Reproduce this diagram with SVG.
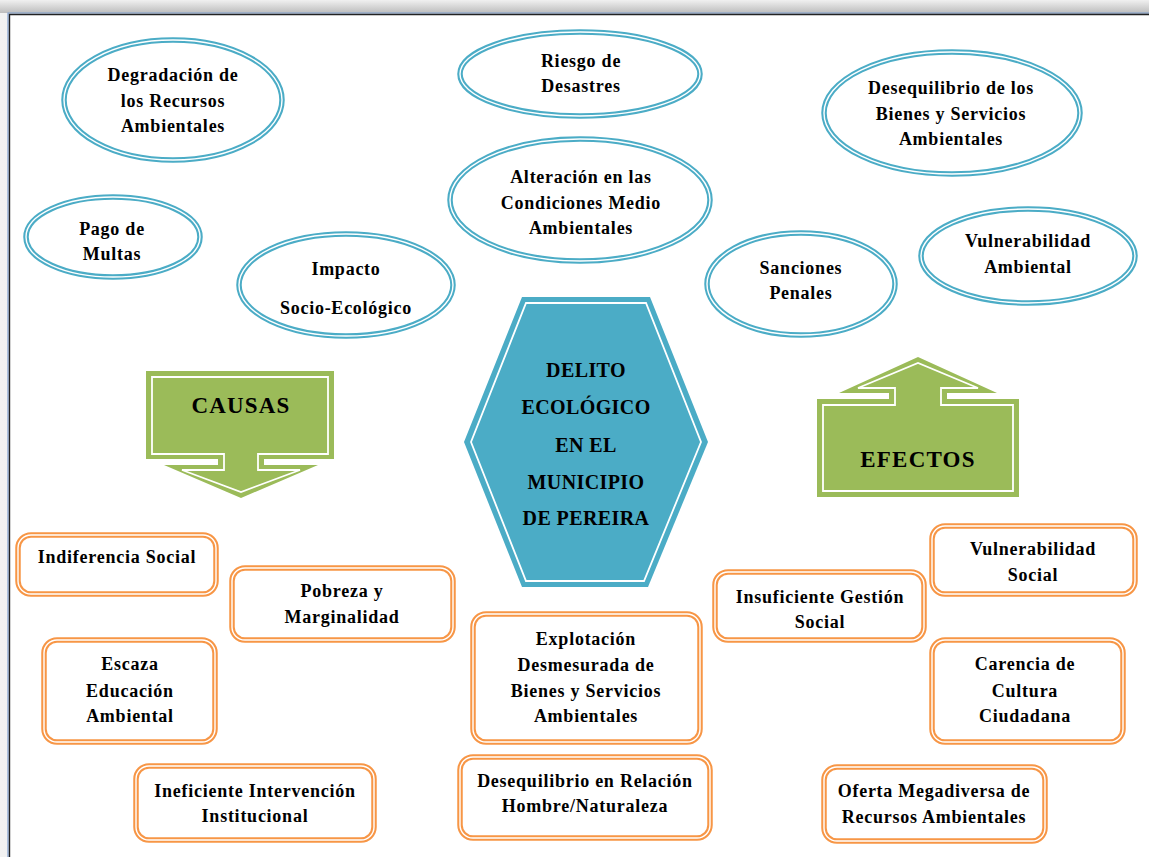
<svg xmlns="http://www.w3.org/2000/svg" width="1149" height="857" viewBox="0 0 1149 857">
<defs>
<linearGradient id="gTop" x1="0" y1="0" x2="0" y2="1"><stop offset="0" stop-color="#f0f0f0"/><stop offset="1" stop-color="#bdbdbd"/></linearGradient>
<linearGradient id="gLeft" x1="0" y1="0" x2="1" y2="0"><stop offset="0" stop-color="#f2f2f2"/><stop offset="1" stop-color="#b8b8b8"/></linearGradient>
<style>
.t{font-family:"Liberation Serif","Times New Roman",serif;font-weight:bold;font-size:18px;letter-spacing:0.75px;fill:#000;text-anchor:middle}
.h{font-size:20px;letter-spacing:0.4px}
.a{font-size:23px;letter-spacing:1.2px}
.eo{fill:#fff;stroke:#4bacc6;stroke-width:5.5}
.ei{fill:none;stroke:#fff;stroke-width:1.4}
.ro{fill:#fff;stroke:#f79646;stroke-width:5.5}
.ri{fill:none;stroke:#fff;stroke-width:1.4}
.gr{fill:#9bbb59}
.wl{fill:none;stroke:#fff;stroke-width:1.8}
</style>
</defs>
<rect x="0" y="0" width="1149" height="857" fill="url(#gLeft)"/>
<rect x="0" y="0" width="1149" height="13" fill="url(#gTop)"/>
<rect x="9" y="14" width="1150" height="850" fill="#fff"/>
<path d="M8,857 V13 H1149" fill="none" stroke="#7f9fd0" stroke-width="1.2"/>
<path d="M9.5,857 V14.5 H1149" fill="none" stroke="#222" stroke-width="1.4"/>

<g id="connectors"></g>

<g id="e-degradacion"><ellipse class="eo" cx="173" cy="100" rx="109" ry="60"/><ellipse class="ei" cx="173" cy="100" rx="109" ry="60"/>
<text class="t" x="173" y="81">Degradación de</text><text class="t" x="173" y="107">los Recursos</text><text class="t" x="173" y="132">Ambientales</text></g>
<g id="e-riesgo"><ellipse class="eo" cx="580" cy="74" rx="120" ry="42"/><ellipse class="ei" cx="580" cy="74" rx="120" ry="42"/>
<text class="t" x="581" y="67">Riesgo de</text><text class="t" x="581" y="92">Desastres</text></g>
<g id="e-desequilibrio"><ellipse class="eo" cx="952" cy="113" rx="128" ry="61"/><ellipse class="ei" cx="952" cy="113" rx="128" ry="61"/>
<text class="t" x="951" y="94">Desequilibrio de los</text><text class="t" x="951" y="120">Bienes y Servicios</text><text class="t" x="951" y="145">Ambientales</text></g>
<g id="e-alteracion"><ellipse class="eo" cx="580" cy="200" rx="130" ry="61"/><ellipse class="ei" cx="580" cy="200" rx="130" ry="61"/>
<text class="t" x="581" y="183">Alteración en las</text><text class="t" x="581" y="209">Condiciones Medio</text><text class="t" x="581" y="234">Ambientales</text></g>
<g id="e-pago"><ellipse class="eo" cx="113" cy="237" rx="87" ry="40"/><ellipse class="ei" cx="113" cy="237" rx="87" ry="40"/>
<text class="t" x="112" y="235">Pago de</text><text class="t" x="112" y="260">Multas</text></g>
<g id="e-impacto"><ellipse class="eo" cx="346" cy="285" rx="107" ry="51"/><ellipse class="ei" cx="346" cy="285" rx="107" ry="51"/>
<text class="t" x="346" y="275">Impacto</text><text class="t" x="346" y="314">Socio-Ecológico</text></g>
<g id="e-sanciones"><ellipse class="eo" cx="801" cy="284" rx="94" ry="51"/><ellipse class="ei" cx="801" cy="284" rx="94" ry="51"/>
<text class="t" x="801" y="274">Sanciones</text><text class="t" x="801" y="299">Penales</text></g>
<g id="e-vulnamb"><ellipse class="eo" cx="1028" cy="256" rx="107" ry="47"/><ellipse class="ei" cx="1028" cy="256" rx="107" ry="47"/>
<text class="t" x="1028" y="247">Vulnerabilidad</text><text class="t" x="1028" y="273">Ambiental</text></g>

<g id="hex-delito"><polygon points="522,297 650,297 708,442 648,587 522,587 464,442" fill="#4bacc6"/>
<polygon points="526,303 646,303 701,442 644,581 526,581 471,442" class="wl"/>
<text class="t h" x="586" y="377">DELITO</text><text class="t h" x="586" y="414">ECOLÓGICO</text><text class="t h" x="586" y="452">EN EL</text><text class="t h" x="586" y="489">MUNICIPIO</text><text class="t h" x="586" y="525">DE PEREIRA</text></g>

<g id="arrow-causas"><path class="gr" d="M146,371 H334 V459 H264 V465 H318 L241,498 L164,465 H218 V459 H146 Z"/>
<path class="wl" d="M152,377 H328 V454 H258 V470 H300 L241,492 L182,470 H224 V454 H152 Z"/>
<text class="t a" x="241" y="413">CAUSAS</text></g>
<g id="arrow-efectos"><path class="gr" d="M817,399 H889 V393 H839 L918,357 L997,393 H947 V399 H1019 V497 H817 Z"/>
<path class="wl" d="M823,405 H895 V388 H858 L918,363 L978,388 H941 V405 H1013 V491 H823 Z"/>
<text class="t a" x="918" y="467">EFECTOS</text></g>

<g id="r-indiferencia"><rect class="ro" x="18" y="535" width="198" height="59" rx="13"/><rect class="ri" x="18" y="535" width="198" height="59" rx="13"/>
<text class="t" x="117" y="563">Indiferencia Social</text></g>
<g id="r-pobreza"><rect class="ro" x="232" y="568" width="221" height="72" rx="13"/><rect class="ri" x="232" y="568" width="221" height="72" rx="13"/>
<text class="t" x="342" y="597">Pobreza y</text><text class="t" x="342" y="623">Marginalidad</text></g>
<g id="r-escaza"><rect class="ro" x="44" y="640" width="171" height="102" rx="13"/><rect class="ri" x="44" y="640" width="171" height="102" rx="13"/>
<text class="t" x="130" y="670">Escaza</text><text class="t" x="130" y="697">Educación</text><text class="t" x="130" y="722">Ambiental</text></g>
<g id="r-ineficiente"><rect class="ro" x="136" y="766" width="238" height="74" rx="13"/><rect class="ri" x="136" y="766" width="238" height="74" rx="13"/>
<text class="t" x="255" y="797">Ineficiente Intervención</text><text class="t" x="255" y="822">Institucional</text></g>
<g id="r-explotacion"><rect class="ro" x="473" y="614" width="227" height="128" rx="13"/><rect class="ri" x="473" y="614" width="227" height="128" rx="13"/>
<text class="t" x="586" y="645">Explotación</text><text class="t" x="586" y="671">Desmesurada de</text><text class="t" x="586" y="697">Bienes y Servicios</text><text class="t" x="586" y="722">Ambientales</text></g>
<g id="r-desequilibrio"><rect class="ro" x="460" y="757" width="250" height="81" rx="13"/><rect class="ri" x="460" y="757" width="250" height="81" rx="13"/>
<text class="t" x="585" y="787">Desequilibrio en Relación</text><text class="t" x="585" y="812">Hombre/Naturaleza</text></g>
<g id="r-insuficiente"><rect class="ro" x="715" y="572" width="209" height="68" rx="13"/><rect class="ri" x="715" y="572" width="209" height="68" rx="13"/>
<text class="t" x="820" y="603">Insuficiente Gestión</text><text class="t" x="820" y="628">Social</text></g>
<g id="r-vulnsocial"><rect class="ro" x="932" y="526" width="203" height="68" rx="13"/><rect class="ri" x="932" y="526" width="203" height="68" rx="13"/>
<text class="t" x="1033" y="555">Vulnerabilidad</text><text class="t" x="1033" y="581">Social</text></g>
<g id="r-carencia"><rect class="ro" x="932" y="640" width="191" height="102" rx="13"/><rect class="ri" x="932" y="640" width="191" height="102" rx="13"/>
<text class="t" x="1025" y="670">Carencia de</text><text class="t" x="1025" y="697">Cultura</text><text class="t" x="1025" y="722">Ciudadana</text></g>
<g id="r-oferta"><rect class="ro" x="824" y="767" width="221" height="74" rx="13"/><rect class="ri" x="824" y="767" width="221" height="74" rx="13"/>
<text class="t" x="934" y="797">Oferta Megadiversa de</text><text class="t" x="934" y="823">Recursos Ambientales</text></g>
</svg>
